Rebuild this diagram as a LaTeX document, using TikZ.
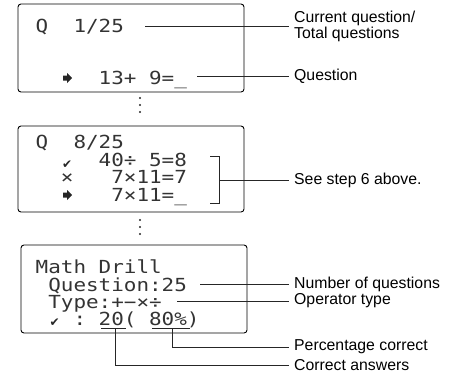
\documentclass[tikz,border=0pt]{standalone}
\usepackage{fontspec}
\setmainfont{Liberation Sans}
\newfontfamily\lcdfont[FakeStretch=1.163]{DejaVu Sans Mono}
\newfontfamily\symfont{DejaVu Sans}
\tikzset{
  screen/.style={draw, line width=0.9pt, rounded corners=3pt, inner sep=0pt},
  lcd/.style={anchor=base west, inner sep=0pt, text=black!80,
    font=\lcdfont\fontsize{18}{18}\selectfont},
  lcdsym/.style={anchor=base west, inner sep=0pt, text=black!85,
    font=\symfont\fontsize{12}{12}\selectfont},
  callout/.style={anchor=west, inner xsep=5pt, inner ysep=0pt, align=left,
    font=\fontsize{15.8}{16}\selectfont},
  leader/.style={line width=0.6pt, draw=black!85},
  vdot/.style={circle, fill=black!85, inner sep=0pt, minimum size=2.2pt},
}
% cursor arrow shown on the display
\newcommand{\cursorarrow}[1]{%
  \fill[black!85, shift={(#1)}] (-4.5,-2.5) -- (-0.3,-2.5) -- (-0.3,-5) -- (4.5,0)
    -- (-0.3,5) -- (-0.3,2.5) -- (-4.5,2.5) -- cycle;}
\begin{document}
\begin{tikzpicture}[x=1pt,y=-1pt]
\useasboundingbox (0,0) rectangle (452,373);

% character cells of the display: column c starts at 35.5 + 12.6 c

% ---- display 1 ----
\node[screen, minimum width=226pt, minimum height=88pt] (s1) at (131,48) {};
\node[lcd] (q1) at (35.5,32.5) {Q\ \ 1/25};
\coordinate (a1) at (67.5,78);
\cursorarrow{a1}
\node[lcd] (e1) at (98.5,84.5) {13+ 9=\_};

\node[callout] (lcur) at (289,26) {Current question/\\Total questions};
\node[callout] (lq) at (289,76) {Question};
\coordinate (c1) at (145,26);
\coordinate (c2) at (197,76);
\draw[leader] (c1) -- (lcur.west);
\draw[leader] (c2) -- (lq.west);

% ellipsis between displays
\node[vdot] (d1) at (140,98) {};
\node[vdot] (d2) at (140,105) {};
\node[vdot] (d3) at (140,112) {};

% ---- display 2 ----
\node[screen, minimum width=226pt, minimum height=86pt] (s2) at (131,169) {};
\node[lcd] (q2) at (35.5,148.5) {Q\ \ 8/25};
\node[lcdsym] (k2) at (62,168) {✔};
\node[lcd] (e2) at (98.5,166.5) {40÷ 5=8};
\node[lcd] (x3) at (60.7,183.5) {×};
\node[lcd] (e3) at (111.1,183.5) {7×11=7};
\coordinate (a4) at (67.5,195);
\cursorarrow{a4}
\node[lcd] (e4) at (111.1,201.5) {7×11=\_};

\coordinate (bt) at (210,156);
\coordinate (bb) at (210,203);
\coordinate (bm) at (219,180);
\node[callout] (lstep) at (289,180) {See step 6 above.};
\draw[leader] (bt) -- (219,156) -- (219,203) -- (bb);
\draw[leader] (bm) -- (lstep.west);

% ellipsis between displays
\node[vdot] (d4) at (140,220) {};
\node[vdot] (d5) at (140,227) {};
\node[vdot] (d6) at (140,234) {};

% ---- display 3 ----
\node[screen, minimum width=226pt, minimum height=88pt] (s3) at (134,289) {};
\node[lcd] (t1) at (35.5,273.5) {Math Drill};
\node[lcd] (t2) at (48.1,291) {Question:25};
\node[lcd] (t3) at (48.1,308.5) {Type:+−×÷};
\node[lcdsym] (k5) at (49.5,326.5) {✔};
\node[lcd] (col5) at (73.3,325.5) {:};
\node[lcd] (r5) at (98.5,325.5) {20( 80\%)};
\draw[leader] (101,328.5) -- (126,328.5);
\draw[leader] (152,328.5) -- (190,328.5);

\node[callout] (lnum) at (289,284) {Number of questions};
\node[callout] (ltype) at (289,301) {Operator type};
\node[callout] (lpct) at (289,347) {Percentage correct};
\node[callout] (lcor) at (289,365) {Correct answers};
\coordinate (c5) at (200,284);
\coordinate (c6) at (177,301);
\coordinate (u80) at (172,328.5);
\coordinate (u20) at (115,328.5);
\draw[leader] (c5) -- (lnum.west);
\draw[leader] (c6) -- (ltype.west);
\draw[leader] (u80) |- (lpct.west);
\draw[leader] (u20) |- (lcor.west);
\end{tikzpicture}
\end{document}
